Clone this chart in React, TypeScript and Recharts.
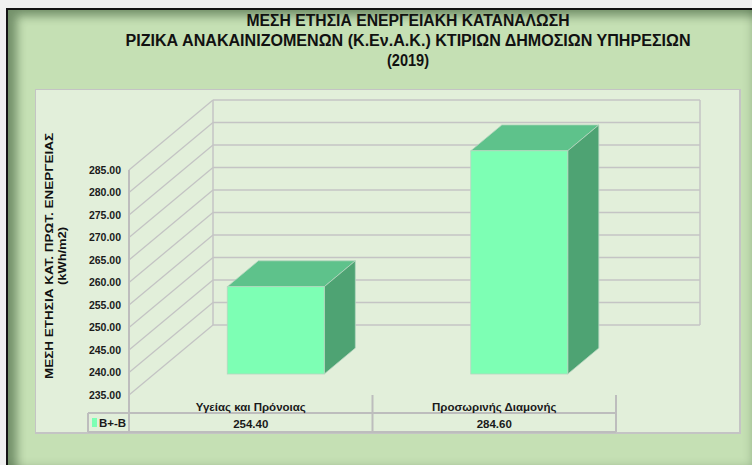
import React from 'react';
import { ComposedChart, Bar, XAxis, YAxis, CartesianGrid, ReferenceArea } from 'recharts';

const categories = ['Υγείας  και Πρόνοιας', 'Προσωρινής Διαμονής'];
const values = [254.4, 284.6];
const seriesName = 'B+-B';
const yTicks = [235, 240, 245, 250, 255, 260, 265, 270, 275, 280, 285];
const titleLines = [
  'ΜΕΣΗ ΕΤΗΣΙΑ ΕΝΕΡΓΕΙΑΚΗ ΚΑΤΑΝΑΛΩΣΗ',
  'ΡΙΖΙΚΑ ΑΝΑΚΑΙΝΙΖΟΜΕΝΩΝ  (Κ.Εν.Α.Κ.) ΚΤΙΡΙΩΝ ΔΗΜΟΣΙΩΝ ΥΠΗΡΕΣΙΩΝ',
  '(2019)',
];
const yLabelLines = ['ΜΕΣΗ ΕΤΗΣΙΑ ΚΑΤ. ΠΡΩΤ. ΕΝΕΡΓΕΙΑΣ', '(kWh/m2)'];

const data = categories.map((name, i) => ({ name, value: values[i] }));

// 3d depth of the walls, and where the boxes sit in it
const DX = 84;
const DY = -70;
const BOX_OFF = 0.3;
const BOX_DEPTH = 0.37;

const FONT = '"Liberation Sans", Arial, sans-serif';
const NARROW = '"Liberation Sans Narrow", "Arial Narrow", "Liberation Sans", Arial, sans-serif';
const GRID = '#c4c4c4';
const TABLE = '#bdbdbd';
const FRONT = '#7dffb4';
const TOP = '#5ec28b';
const SIDE = '#4ea373';

const gridLine = (p: any) => {
  const { x1, y1, x2, key } = p;
  return (
    <g key={key}>
      <line x1={x1} y1={y1} x2={x1 + DX} y2={y1 + DY} stroke={GRID} strokeWidth={1.3} />
      <line x1={x1 + DX} y1={y1 + DY} x2={x2 + DX} y2={y1 + DY} stroke={GRID} strokeWidth={1.5} />
    </g>
  );
};

const Box = (p: any) => {
  const { x, y, width, height } = p;
  if (width == null || height == null) return null;
  const x0 = x + DX * BOX_OFF;
  const y0 = y + DY * BOX_OFF;
  const dx = DX * BOX_DEPTH;
  const dy = DY * BOX_DEPTH;
  const edge = '#b5d6bf';
  return (
    <g>
      <polygon
        points={`${x0},${y0} ${x0 + dx},${y0 + dy} ${x0 + width + dx},${y0 + dy} ${x0 + width},${y0}`}
        fill={TOP}
        stroke={edge}
        strokeWidth={0.8}
      />
      <polygon
        points={`${x0 + width},${y0} ${x0 + width + dx},${y0 + dy} ${x0 + width + dx},${y0 + height + dy} ${x0 + width},${y0 + height}`}
        fill={SIDE}
        stroke={edge}
        strokeWidth={0.8}
      />
      <rect x={x0} y={y0} width={width} height={height} fill={FRONT} stroke={edge} strokeWidth={0.8} />
    </g>
  );
};

// back wall edges and the data table rules
const Frame = (p: any) => {
  const { x, y, width, height } = p;
  const b = y + height;
  const n = categories.length;
  const cols = [];
  for (let i = 1; i <= n; i++) {
    const cx = x + (width * i) / n;
    cols.push(<line key={i} x1={cx} y1={b} x2={cx} y2={b + 37} stroke={TABLE} strokeWidth={2} />);
  }
  return (
    <g>
      <line x1={x + DX} y1={y + DY} x2={x + DX} y2={b + DY} stroke={GRID} strokeWidth={1.5} />
      <line x1={x + width + DX} y1={y + DY} x2={x + width + DX} y2={b + DY} stroke={GRID} strokeWidth={1.5} />
      <line x1={x} y1={y} x2={x} y2={b + 37} stroke={TABLE} strokeWidth={2} />
      <line x1={x - 41} y1={b + 18} x2={x + width} y2={b + 18} stroke={TABLE} strokeWidth={2} />
      <line x1={x - 41} y1={b + 37} x2={x + width} y2={b + 37} stroke={TABLE} strokeWidth={2} />
      <line x1={x - 41} y1={b + 18} x2={x - 41} y2={b + 37} stroke={TABLE} strokeWidth={2} />
      {cols}
      <rect x={x - 37} y={b + 23} width={5} height={9} fill={FRONT} />
      <text x={x - 30} y={b + 32} fontFamily={FONT} fontWeight="bold" fontSize={11.5} fill="#1a1a1a">
        {seriesName}
      </text>
    </g>
  );
};

const CatTick = (p: any) => {
  const { x, y, payload, index } = p;
  return (
    <g>
      <text x={x} y={y + 16} textAnchor="middle" fontFamily={FONT} fontWeight="bold" fontSize={11.5} fill="#1a1a1a">
        {payload.value}
      </text>
      <text x={x} y={y + 33} textAnchor="middle" fontFamily={FONT} fontWeight="bold" fontSize={11.5} fill="#1a1a1a">
        {values[index].toFixed(2)}
      </text>
    </g>
  );
};

export default function App() {
  return (
    <div style={{ position: 'absolute', left: 0, top: 0, width: 752, height: 465, background: '#f0f0f0', overflow: 'hidden' }}>
      <div
        style={{
          position: 'absolute',
          left: 6,
          top: 8,
          width: 752,
          height: 465,
          background: '#c5e0b4',
          borderTop: '2px solid #141414',
          borderLeft: '2px solid #141414',
          boxShadow: 'inset 9px 6px 10px rgba(20,50,20,0.45), inset -8px -8px 10px rgba(20,50,20,0.25)',
        }}
      />
      <div
        style={{
          position: 'absolute',
          left: 35,
          top: 89,
          width: 703,
          height: 342,
          background: '#e2efda',
          border: '1.5px solid #c4c4c4',
          borderRightWidth: 2,
          borderBottomWidth: 2,
        }}
      />
      <svg width={752} height={465} style={{ position: 'absolute', left: 0, top: 0 }}>
        {titleLines.map((t, i) => (
          <text
            key={i}
            x={408}
            y={26 + i * 20}
            textAnchor="middle"
            fontFamily={NARROW}
            fontWeight="bold"
            fontSize={16}
            fill="#111"
            textLength={[323, 565, 42][i]}
            lengthAdjust="spacingAndGlyphs"
          >
            {t}
          </text>
        ))}
        <text
          transform="translate(53,256) rotate(-90)"
          textAnchor="middle"
          fontFamily={FONT}
          fontWeight="bold"
          fontSize={11.5}
          fill="#111"
          textLength={246}
          lengthAdjust="spacingAndGlyphs"
        >
          {yLabelLines[0]}
        </text>
        <text
          transform="translate(66,256) rotate(-90)"
          textAnchor="middle"
          fontFamily={FONT}
          fontWeight="bold"
          fontSize={11.5}
          fill="#111"
          textLength={58}
          lengthAdjust="spacingAndGlyphs"
        >
          {yLabelLines[1]}
        </text>
      </svg>
      <div style={{ position: 'absolute', left: 0, top: 0 }}>
        <ComposedChart
          width={752}
          height={465}
          data={data}
          margin={{ top: 170, right: 136, bottom: 30, left: 79 }}
          barCategoryGap="30%"
        >
          <CartesianGrid vertical={false} horizontal={gridLine} />
          <ReferenceArea y1={235} y2={285} shape={Frame} fill="none" stroke="none" />
          <XAxis dataKey="name" height={40} axisLine={false} tickLine={false} tickSize={0} tickMargin={0} tick={CatTick} interval={0} />
          <YAxis
            width={50}
            domain={[235, 285]}
            ticks={yTicks}
            interval={0}
            axisLine={false}
            tickLine={false}
            tickMargin={2}
            tickFormatter={(v: number) => v.toFixed(2)}
            tick={{ fontFamily: FONT, fontWeight: 'bold', fontSize: 10.5, fill: '#1a1a1a' }}
          />
          <Bar dataKey="value" name={seriesName} shape={Box} isAnimationActive={false} />
        </ComposedChart>
      </div>
    </div>
  );
}
